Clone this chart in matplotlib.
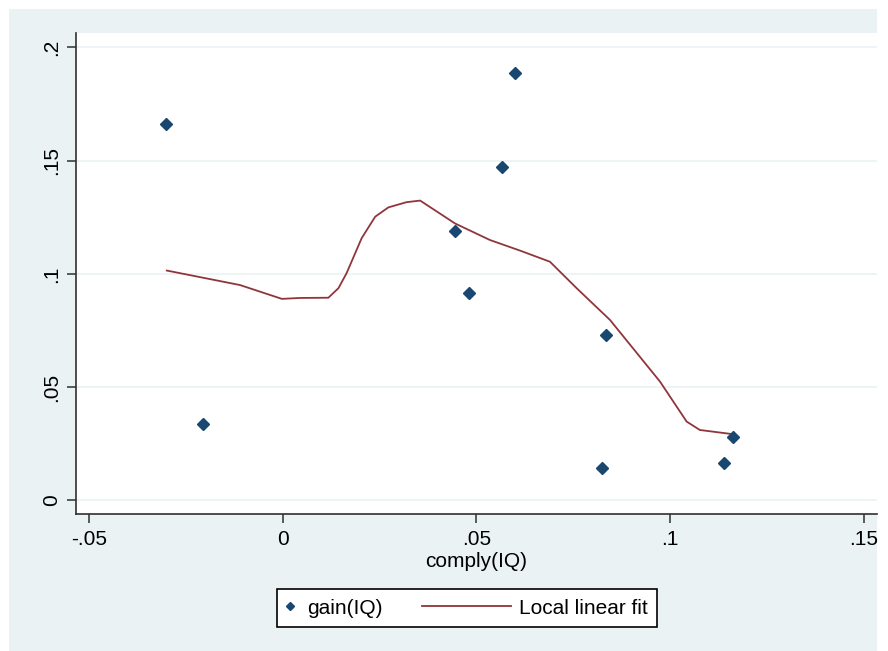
import matplotlib
matplotlib.use('Agg')
import matplotlib.pyplot as plt
from matplotlib.lines import Line2D
from matplotlib.patches import Rectangle
from matplotlib.legend_handler import HandlerLine2D

plt.rcParams['font.family'] = ['Liberation Sans', 'DejaVu Sans']

# scatter data
comply = [-0.0301, -0.0205, 0.0600, 0.0566, 0.0446, 0.0482, 0.0836, 0.0824, 0.1139, 0.1163]
gain = [0.1662, 0.0336, 0.1887, 0.1472, 0.1190, 0.0918, 0.0731, 0.0145, 0.0164, 0.0282]

# local linear fit curve (traced)
fit_x = [-0.0299, -0.0110, -0.0002, 0.0045, 0.0118, 0.0144, 0.0165, 0.0204, 0.0239,
         0.0273, 0.0320, 0.0355, 0.0445, 0.0535, 0.0613, 0.0690, 0.0759, 0.0845,
         0.0974, 0.1043, 0.1077, 0.1155]
fit_y = [0.1015, 0.0951, 0.0890, 0.0894, 0.0895, 0.0937, 0.1003, 0.1158, 0.1253,
         0.1294, 0.1317, 0.1324, 0.1223, 0.1150, 0.1103, 0.1054, 0.0937, 0.0797,
         0.0525, 0.0348, 0.0311, 0.0294]

xticks = [-0.05, 0, 0.05, 0.1, 0.15]
xticklabels = ['-.05', '0', '.05', '.1', '.15']
yticks = [0, 0.05, 0.1, 0.15, 0.2]
yticklabels = ['0', '.05', '.1', '.15', '.2']

bg = '#EAF2F3'
navy = '#1A476F'
maroon = '#90353B'
W, H = 888, 651


class LongLine(HandlerLine2D):
    ''' legend line that reaches back into the column gap (Stata-like) '''
    def create_artists(self, legend, orig_handle, xdescent, ydescent, width, height, fontsize, trans):
        y = height / 2 - ydescent
        ln = Line2D([-3.65 * fontsize, width + 0.35 * fontsize], [y, y],
                    color=orig_handle.get_color(), lw=orig_handle.get_linewidth())
        ln.set_transform(trans)
        return [ln]


fig = plt.figure(figsize=(W / 100, H / 100), dpi=100, facecolor='white')
fig.patches.append(Rectangle((9 / W, 0), (877 - 9) / W, 1 - 9 / H, transform=fig.transFigure,
                             facecolor=bg, edgecolor='none', zorder=-10))

ax = fig.add_axes([76 / W, 1 - 514 / H, (877 - 76) / W, (514 - 33) / H])
ax.set_facecolor('white')
ax.set_xlim(-0.05334, 0.15343)
ax.set_ylim(-0.006, 0.2064)

for t in yticks:
    ax.axhline(t, color=bg, lw=1.2, zorder=0)

ax.plot(fit_x, fit_y, color=maroon, lw=1.3, zorder=2)
ax.plot(comply, gain, linestyle='none', marker='D', ms=6, color=navy, mec=navy, zorder=3)

for s in ['top', 'right']:
    ax.spines[s].set_visible(False)
for s in ['left', 'bottom']:
    ax.spines[s].set_color('#303030')
    ax.spines[s].set_linewidth(1.2)

ax.set_xticks(xticks)
ax.set_xticklabels(xticklabels)
ax.set_yticks(yticks)
ax.set_yticklabels(yticklabels, rotation=90, va='center')
ax.tick_params(axis='both', length=6.5, width=1.1, color='#303030', labelsize=15, labelcolor='black')
ax.tick_params(axis='x', pad=5)
ax.tick_params(axis='y', pad=4)
ax.set_xlabel('comply(IQ)', fontsize=15, labelpad=2)

h1 = Line2D([], [], linestyle='none', marker='D', ms=4.5, color=navy)
h2 = Line2D([], [], color=maroon, lw=1.3)
leg = fig.legend([h1, h2], ['gain(IQ)', 'Local linear fit'], loc='center left',
                 bbox_to_anchor=(277 / W, 1 - 608 / H), borderaxespad=0, ncol=2,
                 fontsize=15, handlelength=0.3, handletextpad=0.72, columnspacing=5.5,
                 borderpad=0.45, fancybox=False, framealpha=1, edgecolor='black',
                 handler_map={h2: LongLine()})
leg.get_frame().set_linewidth(1.2)

fig.savefig('out.png', dpi=100, facecolor=fig.get_facecolor())
